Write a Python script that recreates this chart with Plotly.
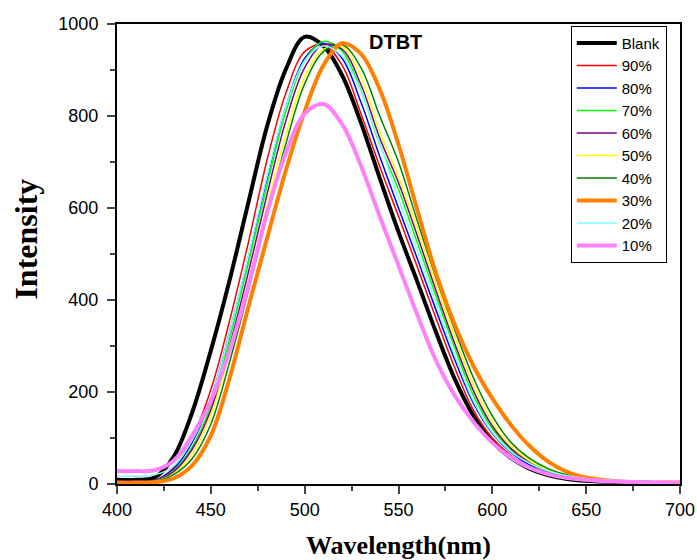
import plotly.graph_objects as go

# wavelength grid (nm)
wavelength = [400, 410, 420, 430, 440, 450, 460, 470, 480, 490, 500,
              510, 520, 530, 540, 550, 560, 570, 580, 590, 600,
              610, 620, 630, 640, 650, 660, 670, 680, 690, 700]

# intensities
blank = [9, 9, 14, 58, 155, 290, 443, 612, 778, 902, 972,
         952, 888, 785, 665, 548, 440, 330, 228, 148, 92,
         56, 33, 19, 11, 7, 5, 4, 3, 2, 2]
p90 = [6, 6, 8, 35, 100, 205, 355, 525, 705, 850, 940,
       955, 910, 805, 690, 582, 472, 360, 252, 160, 100,
       62, 38, 22, 13, 8, 6, 5, 4, 4, 4]
p80 = [6, 6, 8, 32, 90, 185, 330, 492, 665, 820, 925,
       958, 925, 830, 712, 600, 490, 378, 270, 175, 110,
       68, 41, 24, 14, 9, 6, 5, 5, 4, 4]
p70 = [5, 5, 7, 28, 80, 170, 315, 480, 650, 810, 920,
       962, 940, 855, 738, 640, 525, 408, 295, 192, 120,
       74, 45, 27, 16, 10, 7, 5, 4, 4, 4]
p60 = [5, 5, 7, 26, 75, 161, 300, 460, 630, 790, 905,
       955, 945, 868, 752, 655, 540, 420, 305, 202, 126,
       77, 47, 28, 17, 10, 7, 5, 4, 4, 4]
p50 = [5, 5, 6, 22, 65, 150, 285, 440, 605, 760, 885,
       945, 950, 885, 765, 668, 555, 435, 320, 214, 134,
       82, 50, 30, 18, 11, 7, 5, 4, 4, 4]
p40 = [4, 4, 6, 20, 55, 130, 265, 420, 585, 740, 870,
       940, 955, 905, 800, 700, 572, 448, 335, 230, 148,
       90, 55, 33, 20, 12, 8, 6, 5, 4, 4]
p30 = [3, 3, 4, 12, 40, 105, 230, 385, 535, 682, 810,
       910, 958, 935, 858, 738, 596, 458, 346, 256, 186,
       128, 82, 48, 26, 14, 8, 5, 3, 3, 3]
p20 = [17, 17, 20, 38, 95, 185, 330, 495, 670, 820, 920,
       952, 930, 852, 740, 620, 508, 393, 280, 180, 112,
       70, 45, 28, 18, 12, 9, 7, 6, 5, 5]
p10 = [28, 28, 30, 50, 105, 180, 290, 430, 590, 720, 805,
       826, 782, 692, 582, 475, 368, 268, 192, 135, 90,
       57, 35, 21, 13, 9, 6, 5, 4, 3, 3]

names = ["Blank", "90%", "80%", "70%", "60%", "50%", "40%", "30%", "20%", "10%"]
series = [blank, p90, p80, p70, p60, p50, p40, p30, p20, p10]
colors = ["#000000", "#FF0000", "#0000FF", "#00FF00", "#800080",
          "#FFFF00", "#008000", "#FF8000", "#80FFFF", "#FF80FF"]
widths = [4, 1.5, 1.5, 1.5, 1.5, 1.5, 1.5, 4, 1.5, 4]

fig = go.Figure()
for name, ys, c, w in zip(names, series, colors, widths):
    fig.add_trace(go.Scatter(x=wavelength, y=ys, name=name, mode="lines",
                             line=dict(color=c, width=w, shape="spline", smoothing=1)))

axis_font = dict(family="Liberation Sans, Arial", size=18, color="black")
serif = "Liberation Serif, Times New Roman"

fig.update_xaxes(range=[400, 700], dtick=50, ticks="outside", ticklen=8, tickwidth=2,
                 showline=True, linewidth=2, linecolor="black", mirror=True,
                 showgrid=False, zeroline=False, tickfont=axis_font, automargin=False,
                 minor=dict(dtick=25, ticks="outside", ticklen=5, tickwidth=2),
                 title=dict(text="<b>Wavelength(nm)</b>", standoff=17,
                            font=dict(family=serif, size=26, color="black")))
fig.update_yaxes(range=[0, 1000], dtick=200, ticks="outside", ticklen=8, tickwidth=2,
                 showline=True, linewidth=2, linecolor="black", mirror=True,
                 showgrid=False, zeroline=False, tickfont=axis_font, automargin=False,
                 ticklabelstandoff=5,
                 minor=dict(dtick=100, ticks="outside", ticklen=5, tickwidth=2))

# y title sits a bit above the middle of the axis in the original
fig.add_annotation(text="<b>Intensity</b>", x=-0.162, y=0.533, xref="paper", yref="paper",
                   textangle=-90, showarrow=False, xanchor="center", yanchor="middle",
                   font=dict(family=serif, size=32, color="black"))

fig.add_annotation(text="<b>DTBT</b>", x=0.495, y=0.96, xref="paper", yref="paper",
                   showarrow=False, xanchor="center", yanchor="middle",
                   font=dict(family="Liberation Sans, Arial", size=20, color="black"))

fig.update_layout(
    width=697, height=560,
    margin=dict(l=116.5, r=17, t=24, b=76),
    paper_bgcolor="white", plot_bgcolor="white",
    legend=dict(x=0.806, y=0.996, xanchor="left", yanchor="top",
                bordercolor="black", borderwidth=1, bgcolor="white",
                font=dict(family="Liberation Sans, Arial", size=15, color="black"),
                tracegroupgap=0, itemwidth=40),
    showlegend=True,
)

# page body has a default 8px margin; drop it so the figure fills the window
fig.write_html("out.html", config={"displayModeBar": False},
               post_script="document.body.style.margin='0';")
